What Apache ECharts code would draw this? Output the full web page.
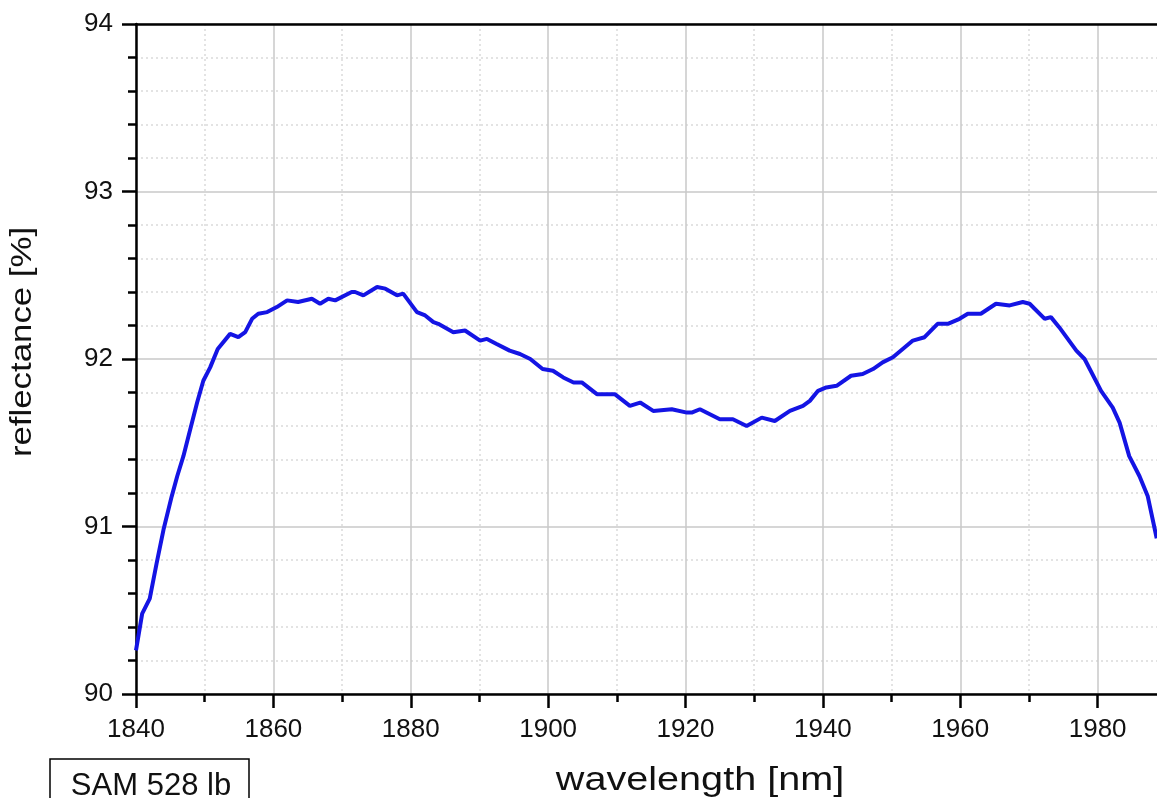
<!DOCTYPE html>
<html>
<head>
<meta charset="utf-8">
<title>SAM 528 lb reflectance</title>
<script src="https://cdn.jsdelivr.net/npm/echarts@6/dist/echarts.min.js"></script>
<style>
    html, body { margin: 0; padding: 0; background: #fff; }
    #chart { width: 1157px; height: 798px; }
</style>
</head>
<body>
<div id="chart"></div>
<script>
// wavelength [nm]
var wavelength = [1840, 1840.9, 1842, 1843, 1844, 1845.2, 1846, 1846.9, 1847.9, 1848.9,
    1849.8, 1850.8, 1851.9, 1853.7, 1854.9, 1855.9, 1856.9, 1857.8, 1859.1, 1860.5,
    1862, 1863.6, 1865.6, 1866.8, 1868, 1869, 1871.4, 1871.9, 1873.1, 1875.1,
    1876.3, 1878, 1878.9, 1880.9, 1882.1, 1883.3, 1884, 1886.2, 1887.9, 1890.1,
    1891.1, 1892.5, 1894.4, 1895.9, 1897.4, 1899.2, 1900.7, 1902.2, 1903.7, 1904.9,
    1907.1, 1909.7, 1911.9, 1913.4, 1915.3, 1918, 1920.2, 1920.9, 1922.1, 1925,
    1926.9, 1928.9, 1931.1, 1933, 1935.2, 1937.1, 1938.1, 1939.3, 1940.5, 1942,
    1944.1, 1945.8, 1947.3, 1948.7, 1950.2, 1953.1, 1954.8, 1956.7, 1958.2, 1959.9,
    1961.1, 1963, 1965.2, 1967.2, 1969.1, 1970.1, 1972.3, 1973.2, 1974.4, 1976.9,
    1978.1, 1980.5, 1982.2, 1983.2, 1984.6, 1986.1, 1987.3, 1988.6];

// reflectance [%]
var reflectance = [90.26, 90.48, 90.57, 90.78, 90.98, 91.18, 91.30, 91.42, 91.58, 91.74,
    91.87, 91.95, 92.06, 92.15, 92.13, 92.16, 92.24, 92.27, 92.28, 92.31,
    92.35, 92.34, 92.36, 92.33, 92.36, 92.35, 92.40, 92.40, 92.38, 92.43,
    92.42, 92.38, 92.39, 92.28, 92.26, 92.22, 92.21, 92.16, 92.17, 92.11,
    92.12, 92.09, 92.05, 92.03, 92.00, 91.94, 91.93, 91.89, 91.86, 91.86,
    91.79, 91.79, 91.72, 91.74, 91.69, 91.70, 91.68, 91.68, 91.70, 91.64,
    91.64, 91.60, 91.65, 91.63, 91.69, 91.72, 91.75, 91.81, 91.83, 91.84,
    91.90, 91.91, 91.94, 91.98, 92.01, 92.11, 92.13, 92.21, 92.21, 92.24,
    92.27, 92.27, 92.33, 92.32, 92.34, 92.33, 92.24, 92.25, 92.19, 92.05,
    92.00, 91.81, 91.71, 91.62, 91.42, 91.30, 91.18, 90.93];

var xTitle = "wavelength [nm]";
var yTitle = "reflectance [%]";
var sampleName = "SAM 528 lb";

var fontName = "'Liberation Sans', Arial, sans-serif";

function buildData() {
    var arr = [];
    for (var i = 0; i < wavelength.length; i++) {
        arr.push([wavelength[i], reflectance[i]]);
    }
    return arr;
}

// plain numbers, no thousands separator
function plainLabel(value) {
    return String(value);
}

var myChart = echarts.init(document.getElementById("chart"), null, {renderer: "canvas"});

var option = {
    backgroundColor: "#fff",
    animation: false,
    // the original plot runs to 2000 nm, its right part is cut off
    grid: {left: 136, top: 24, width: 1099, height: 670, outerBoundsMode: "none", containLabel: false},
    xAxis: [
        {
            type: "value",
            min: 1840,
            max: 2000,
            interval: 20,
            axisLine: {lineStyle: {color: "#000", width: 2.5}},
            axisTick: {length: 14, lineStyle: {color: "#000", width: 2.5}},
            minorTick: {show: true, splitNumber: 2, length: 8, lineStyle: {color: "#000", width: 2.5}},
            axisLabel: {fontSize: 26, color: "#111", margin: 23, fontFamily: fontName, formatter: plainLabel},
            splitLine: {show: true, lineStyle: {color: "#c9c9c9", width: 1.5}},
            minorSplitLine: {show: true, lineStyle: {color: "#dadada", width: 1.5, type: [2, 3]}}
        },
        {
            // top frame line
            type: "value",
            position: "top",
            min: 1840,
            max: 2000,
            axisLine: {show: true, lineStyle: {color: "#000", width: 2.5}},
            axisTick: {show: false},
            axisLabel: {show: false},
            splitLine: {show: false}
        }
    ],
    yAxis: {
        type: "value",
        min: 90,
        max: 94,
        interval: 1,
        axisLine: {show: true, lineStyle: {color: "#000", width: 2.5}},
        axisTick: {length: 14, lineStyle: {color: "#000", width: 2.5}},
        minorTick: {show: true, splitNumber: 5, length: 8, lineStyle: {color: "#000", width: 2.5}},
        axisLabel: {fontSize: 26, color: "#111", margin: 23, fontFamily: fontName, formatter: plainLabel},
        splitLine: {show: true, lineStyle: {color: "#c9c9c9", width: 1.5}},
        minorSplitLine: {show: true, lineStyle: {color: "#dadada", width: 1.5, type: [2, 3]}}
    },
    series: [
        {
            name: yTitle,
            type: "line",
            xAxisIndex: 0,
            data: buildData(),
            showSymbol: false,
            lineStyle: {color: "#1414e4", width: 4},
            z: 5
        }
    ],
    graphic: [
        {
            // axis titles are set a little wide in the original
            type: "text",
            x: 23,
            y: 342,
            rotation: Math.PI / 2,
            scaleX: 1.16,
            style: {text: yTitle, font: "30px " + fontName, fill: "#111", align: "center", verticalAlign: "middle"}
        },
        {
            type: "text",
            x: 700,
            y: 781,
            scaleX: 1.2,
            style: {text: xTitle, font: "33px " + fontName, fill: "#111", align: "center", verticalAlign: "middle"}
        },
        {
            type: "rect",
            shape: {x: 50, y: 759, width: 199, height: 60},
            style: {fill: "#fff", stroke: "#000", lineWidth: 1.5}
        },
        {
            type: "text",
            x: 151,
            y: 786,
            style: {text: sampleName, font: "31px " + fontName, fill: "#111", align: "center", verticalAlign: "middle"}
        }
    ]
};

myChart.setOption(option);
</script>
</body>
</html>
